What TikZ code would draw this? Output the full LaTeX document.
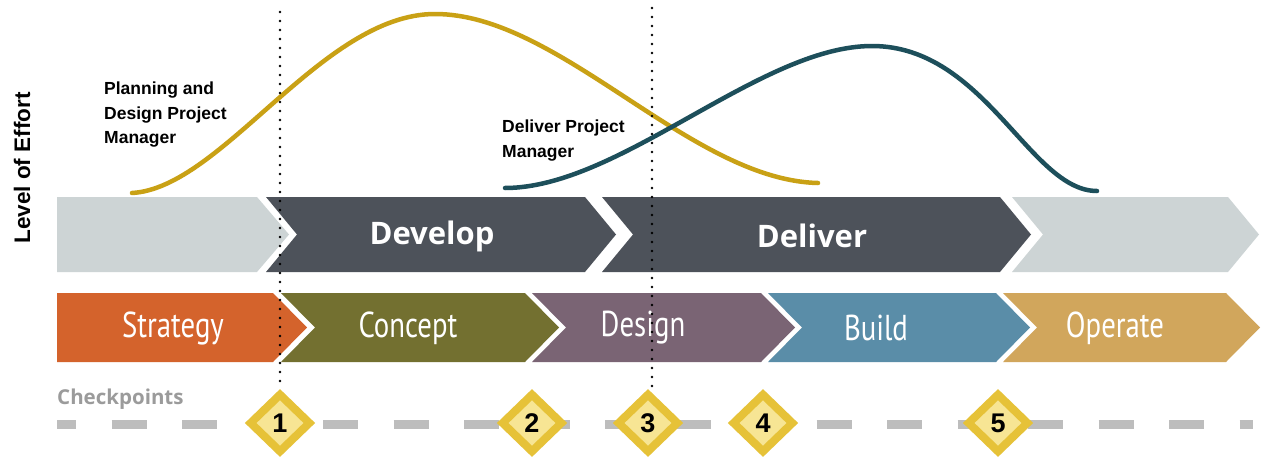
\documentclass[tikz,border=0pt]{standalone}
\usepackage{xcolor}
\usepackage{fontspec}
\setmainfont{Liberation Sans}
\newfontfamily\headfont{Open Sans}
\newfontfamily\phasefont[FakeStretch=0.8]{PT Sans}
\usetikzlibrary{shapes.geometric}

\definecolor{stagelight}{HTML}{CDD4D5}
\definecolor{stagedark}{HTML}{4D525A}
\definecolor{strategycol}{HTML}{D4632C}
\definecolor{conceptcol}{HTML}{737030}
\definecolor{designcol}{HTML}{7A6474}
\definecolor{buildcol}{HTML}{5A8DA8}
\definecolor{operatecol}{HTML}{D1A65C}
\definecolor{pdpmcol}{HTML}{C9A115}
\definecolor{dpmcol}{HTML}{1D4F5B}
\definecolor{cpouter}{HTML}{E6C238}
\definecolor{cpinner}{HTML}{F7E594}
\definecolor{dashgrey}{HTML}{BDBDBD}
\definecolor{labelgrey}{HTML}{9B9B9B}

\tikzset{
  stage/.style={text=white, font=\headfont\bfseries\fontsize{31}{36}\selectfont},
  phase/.style={text=white, font=\phasefont\fontsize{36}{42}\selectfont},
  effort/.style={line width=4.5pt, line cap=round},
  guide/.style={line width=2.6pt, line cap=round, dash pattern=on 0pt off 9pt},
  role/.style={anchor=north west, align=left, inner sep=0pt, font=\bfseries\fontsize{17.5}{24.5}\selectfont},
  checkpoint/.style={diamond, fill=cpinner, draw=cpouter, line width=8pt, minimum width=62pt, minimum height=60pt, inner sep=0pt, font=\bfseries\fontsize{27}{30}\selectfont}
}

\begin{document}
\begin{tikzpicture}[x=1pt,y=-1pt]
            \useasboundingbox[fill=white] (0,0) rectangle (1264,458);

            \fill[stagelight] (57,197) -- (257,197) -- (289,234.5) -- (257,272) -- (57,272) -- cycle;
            \fill[stagedark] (266,197) -- (585,197) -- (616,234.5) -- (585,272) -- (266,272) -- (297,234.5) -- cycle;
            \fill[stagedark] (602,197) -- (1000,197) -- (1031,234.5) -- (1000,272) -- (602,272) -- (633,234.5) -- cycle;
            \fill[stagelight] (1012,197) -- (1228,197) -- (1259,234.5) -- (1228,272) -- (1012,272) -- (1043,234.5) -- cycle;

            \fill[strategycol] (57,293) -- (273,293) -- (307,327.5) -- (273,362) -- (57,362) -- cycle;
            \fill[conceptcol] (281,293) -- (525,293) -- (559,327.5) -- (525,362) -- (281,362) -- (315,327.5) -- cycle;
            \fill[designcol] (532,293) -- (761,293) -- (795,327.5) -- (761,362) -- (532,362) -- (566,327.5) -- cycle;
            \fill[buildcol] (768,293) -- (996,293) -- (1030,327.5) -- (996,362) -- (768,362) -- (802,327.5) -- cycle;
            \fill[operatecol] (1003,293) -- (1226,293) -- (1260,327.5) -- (1226,362) -- (1003,362) -- (1037,327.5) -- cycle;

            \node[stage] (develop) at (432,236) {Develop};
            \node[stage] (deliver) at (812,236) {Deliver};

            \node[phase] (strategy) at (173,328) {Strategy};
            \node[phase] (concept) at (408,328) {Concept};
            \node[phase] (design) at (643,328) {Design};
            \node[phase] (build) at (876,328) {Build};
            \node[phase] (operate) at (1115,328) {Operate};

            \draw[effort, pdpmcol] (132,193) .. controls (222,188) and (322,14) .. (435,14) .. controls (560,14) and (690,180) .. (818,183);
            \draw[effort, dpmcol] (505,188) .. controls (620,188) and (760,46) .. (872,46) .. controls (985,46) and (1030,191) .. (1097,191);

            \node[role] (pdpm) at (104,82) {Planning and\\Design Project\\Manager};
            \node[role] (dpm) at (502,120) {Deliver Project\\Manager};

            \node[rotate=90, font=\bfseries\fontsize{22.5}{26}\selectfont] (effortlabel) at (22,168) {Level of Effort};

            \node[anchor=west, inner sep=0pt, text=labelgrey, font=\headfont\bfseries\fontsize{20.5}{24}\selectfont] (checkpoints) at (57,399) {Checkpoints};

            \draw[dashgrey, line width=9pt, dash pattern=on 35pt off 35.5pt, dash phase=16pt] (57,424) -- (1253,424);

            \node[checkpoint] (cp1) at (280,423) {1};
            \node[checkpoint] (cp2) at (532,423) {2};
            \node[checkpoint] (cp3) at (648,423) {3};
            \node[checkpoint] (cp4) at (763,423) {4};
            \node[checkpoint] (cp5) at (998,423) {5};

            \coordinate (top1) at (280,12);
            \coordinate (top3) at (652,8);
            \draw[guide] (top1) -- (top1 |- cp1.north);
            \draw[guide] (top3) -- (top3 |- cp3.north);
        \end{tikzpicture}
\end{document}
